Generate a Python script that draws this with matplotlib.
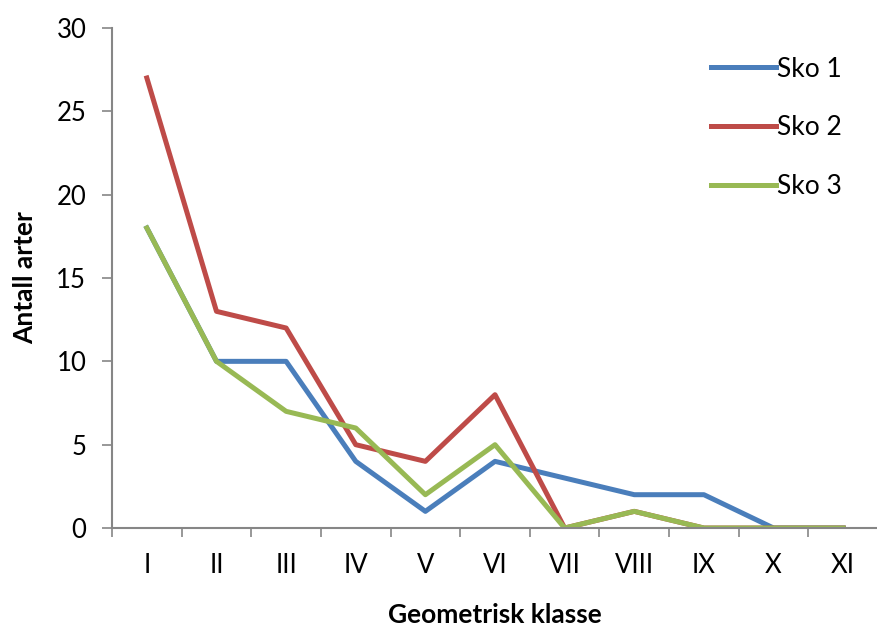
import numpy as np
import matplotlib.pyplot as plt

plt.rcParams['font.family'] = ['Lato', 'DejaVu Sans']

klasser = ['I', 'II', 'III', 'IV', 'V', 'VI', 'VII', 'VIII', 'IX', 'X', 'XI']
sko1 = [18, 10, 10, 4, 1, 4, 3, 2, 2, 0, 0]
sko2 = [27, 13, 12, 5, 4, 8, 0, 1, 0, 0, 0]
sko3 = [18, 10, 7, 6, 2, 5, 0, 1, 0, 0, 0]

x = np.arange(1, len(klasser) + 1)
grey = '#868686'

fig = plt.figure(figsize=(8.78, 6.26), dpi=100)
ax = fig.add_axes([0.1276, 0.1565, 0.8724, 0.7988])

ax.plot(x, sko1, color='#4a7ebb', lw=3.6, label='Sko 1', solid_joinstyle='round')
ax.plot(x, sko2, color='#be4b48', lw=3.6, label='Sko 2', solid_joinstyle='round')
ax.plot(x, sko3, color='#98b954', lw=3.6, label='Sko 3', solid_joinstyle='round')

ax.set_xlim(0.5, len(klasser) + 0.5)
ax.set_ylim(0, 30)
ax.set_yticks(np.arange(0, 31, 5))

# category boundaries carry the tick marks, labels sit at the centres
ax.set_xticks(np.arange(0.5, len(klasser) + 1, 1))
ax.set_xticklabels([])
ax.set_xticks(x, minor=True)
ax.set_xticklabels(klasser, minor=True)
ax.tick_params(axis='x', which='major', length=6.5, width=1.2, color=grey, direction='out')
ax.tick_params(axis='x', which='minor', length=0, pad=18, labelsize=18.5)
ax.tick_params(axis='y', length=7.5, width=1.2, color=grey, direction='out', labelsize=18.5, pad=11)

for s in ['top', 'right']:
    ax.spines[s].set_visible(False)
for s in ['left', 'bottom']:
    ax.spines[s].set_color(grey)
    ax.spines[s].set_linewidth(1.5)

ax.set_ylabel('Antall arter', fontsize=19, fontweight='bold', labelpad=14)
ax.set_xlabel('Geometrisk klasse', fontsize=19, fontweight='bold', labelpad=18)

ax.legend(loc='upper left', bbox_to_anchor=(0.751, 0.99), frameon=False,
          fontsize=19, handlelength=2.45, handletextpad=0.05, labelspacing=1.27)

fig.savefig('out.png', dpi=100)
